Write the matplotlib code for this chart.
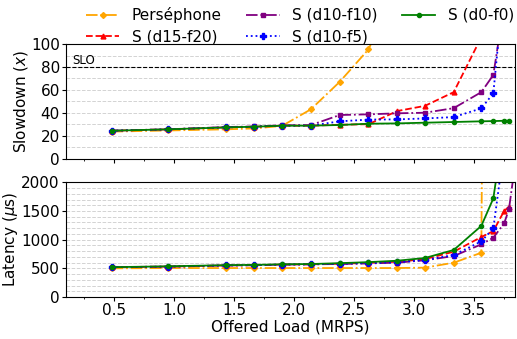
import matplotlib
matplotlib.use("Agg")
import matplotlib.pyplot as plt
from matplotlib.ticker import MultipleLocator

plt.rcParams['font.size'] = 11

# offered load (MRPS)
load = [0.48, 0.95, 1.43, 1.67, 1.90, 2.14, 2.38, 2.62, 2.86, 3.09, 3.33, 3.56, 3.66, 3.75, 3.79, 3.86]

labels = ["Perséphone", "S (d15-f20)", "S (d10-f10)", "S (d10-f5)", "S (d0-f0)"]

# slowdown (x)
slow_perse = [23.5, 24.5, 25.5, 26.3, 28.5, 43, 67, 95.4, 150]
slow_d15f20 = [24.3, 25.5, 27.2, 27.8, 28.7, 28.7, 29.5, 30.0, 41.5, 46, 58, 106, 250]
slow_d10f10 = [24.3, 25.5, 27.5, 28.0, 29.0, 29.2, 38.0, 38.6, 39.5, 40, 44, 58, 73, 134]
slow_d10f5 = [24.3, 25.5, 27.2, 27.8, 28.7, 28.7, 32.5, 34.0, 34.2, 35, 36.2, 43.8, 57, 154]
slow_d0f0 = [24.3, 25.5, 27.2, 27.8, 28.7, 28.7, 29.3, 30.4, 30.7, 31.3, 31.9, 32.5, 32.7, 33.0, 33.0]

# latency (us)
lat_perse = [500, 505, 505, 505, 505, 505, 505, 505, 505, 512, 598, 772, 30000]
lat_d15f20 = [520, 530, 550, 555, 565, 570, 580, 595, 615, 660, 790, 1046, 1150, 1500, 1575]
lat_d10f10 = [520, 530, 550, 555, 565, 570, 575, 585, 600, 640, 714, 918, 1034, 1284, 1528, 2600]
lat_d10f5 = [520, 530, 550, 555, 565, 570, 580, 590, 605, 645, 732, 970, 1197, 2600]
lat_d0f0 = [520, 535, 555, 560, 570, 575, 590, 608, 633, 680, 820, 1240, 1720, 3000]

styles = [
    dict(color='orange', linestyle='-.', marker='D', markersize=3),
    dict(color='red', linestyle='--', marker='^', markersize=3.5),
    dict(color='purple', linestyle='-.', marker='s', markersize=3.5),
    dict(color='blue', linestyle=':', marker='P', markersize=4),
    dict(color='green', linestyle='-', marker='o', markersize=3),
]

slow = [slow_perse, slow_d15f20, slow_d10f10, slow_d10f5, slow_d0f0]
lat = [lat_perse, lat_d15f20, lat_d10f10, lat_d10f5, lat_d0f0]

fig = plt.figure(figsize=(5.17, 3.39), dpi=100)
ax1 = fig.add_axes([0.1277, 0.5324, 0.8683, 0.3376])
ax2 = fig.add_axes([0.1277, 0.1239, 0.8683, 0.3383], sharex=ax1)

for name, ys, ls, st in zip(labels, slow, lat, styles):
    ax1.plot(load[:len(ys)], ys, label=name, linewidth=1.3, **st)
    ax2.plot(load[:len(ls)], ls, linewidth=1.3, **st)

ax1.axhline(80, color='black', linestyle='--', linewidth=0.8)
ax1.text(0.15, 82.5, "SLO", fontsize=8.5)

ax1.set_ylim(0, 100)
ax1.yaxis.set_major_locator(MultipleLocator(20))
ax1.yaxis.set_minor_locator(MultipleLocator(10))
ax1.set_ylabel("Slowdown ($x$)", labelpad=1)

ax2.set_ylim(0, 2000)
ax2.yaxis.set_major_locator(MultipleLocator(500))
ax2.yaxis.set_minor_locator(MultipleLocator(100))
ax2.set_ylabel("Latency ($\\mu$s)", labelpad=1)
ax2.set_xlabel("Offered Load (MRPS)", labelpad=1)

ax1.set_xlim(0.1, 3.84)
ax1.xaxis.set_major_locator(MultipleLocator(0.5))
ax1.xaxis.set_minor_locator(MultipleLocator(0.25))
ax1.tick_params(labelbottom=False)

for ax in (ax1, ax2):
    ax.grid(which='both', axis='y', color='lightgray', linestyle='--', linewidth=0.7)
    ax.tick_params(axis='y', which='minor', left=False)
    ax.tick_params(which='major', length=3, pad=1.5)
    ax.tick_params(which='minor', length=1.5)
    ax.set_axisbelow(True)

fig.legend(loc='upper center', bbox_to_anchor=(0.58, 1.02), ncol=3, frameon=False,
           columnspacing=1.6, handlelength=2.2, labelspacing=0.4, fontsize=11)

fig.savefig("out.png", dpi=100)
